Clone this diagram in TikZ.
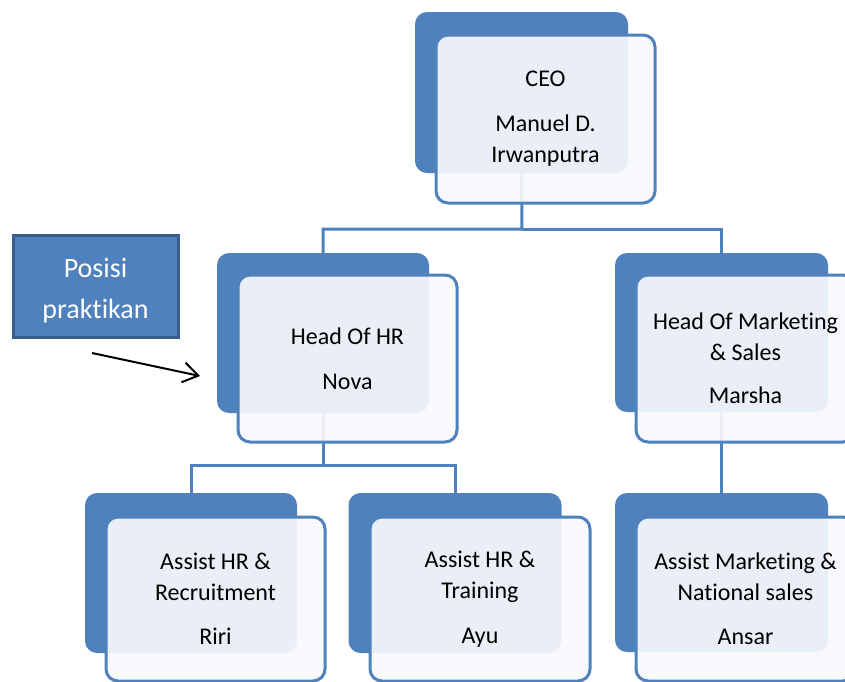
\documentclass[tikz,border=0pt]{standalone}
\usepackage{fontspec}
\setmainfont{Carlito}[RawFeature=-liga, RawFeature=-clig, RawFeature=-calt]
\usetikzlibrary{arrows.meta}
\definecolor{accent}{HTML}{4F81BD}
\definecolor{accentdark}{HTML}{385D8A}
\definecolor{frontfill}{HTML}{F8F9FD}
\begin{document}
\begin{tikzpicture}[x=1pt,y=-1pt,
  backbox/.style={fill=accent, rounded corners=12pt, inner sep=0pt},
  frontbox/.style={fill=frontfill, fill opacity=0.92, text opacity=1, draw=accent,
    line width=3pt, rounded corners=12pt, inner sep=0pt, align=center,
    font=\fontsize{24}{31}\selectfont, text=black},
  conn/.style={draw=accent, line width=3pt},
  notebox/.style={fill=accent, draw=accentdark, line width=3pt, inner sep=0pt},
  notetext/.style={align=center, text=white, font=\fontsize{28}{41}\selectfont},
  pointer/.style={draw=black, line width=2pt, -{Straight Barb[length=15pt,width=20pt]}}]
\useasboundingbox (0,0) rectangle (845,681);
\clip (0,0) rectangle (845,681);

% back (dark) boxes
\node[backbox, minimum width=213, minimum height=161] (ceoB) at (521.5,92.5) {};
\node[backbox, minimum width=212, minimum height=160] (hrB) at (323,333) {};
\node[backbox, minimum width=213, minimum height=159] (mkB) at (721.5,332.5) {};
\node[backbox, minimum width=212, minimum height=160] (recB) at (191,573) {};
\node[backbox, minimum width=213, minimum height=160] (trB) at (455,573) {};
\node[backbox, minimum width=213, minimum height=159] (amB) at (721.5,572.5) {};

% connectors (seen through the translucent front boxes)
\coordinate (j1) at (522,229);
\coordinate (j2) at (323,465);
\draw[conn] (ceoB.south) -- (j1) -| (hrB.north);
\draw[conn] (j1) -| (mkB.north);
\draw[conn] (hrB.south) -- (j2) -| (recB.north);
\draw[conn] (j2) -| (trB.north);
\draw[conn] (mkB.south) -- (amB.north);

% front boxes
\node[frontbox, minimum width=219, minimum height=168] (ceo) at (545.5,119)
  {CEO\\[14pt]Manuel D.\\Irwanputra};
\node[frontbox, minimum width=219, minimum height=167] (hr) at (347.5,358.5)
  {Head Of HR\\[14pt]Nova};
\node[frontbox, minimum width=219, minimum height=167] (mk) at (745.5,358.5)
  {Head Of Marketing\\\& Sales\\[12pt]Marsha};
\node[frontbox, minimum width=219, minimum height=164] (rec) at (215.5,599)
  {Assist HR \&\\Recruitment\\[13pt]Riri};
\node[frontbox, minimum width=220, minimum height=164] (tr) at (480,599)
  {Assist HR \&\\Training\\[14pt]Ayu};
\node[frontbox, minimum width=219, minimum height=164] (am) at (745.5,599)
  {Assist Marketing \&\\National sales\\[13pt]Ansar};

% note box and pointer
\node[notebox, minimum width=165, minimum height=102] (note) at (95.5,286) {};
\node[notetext] (noteT) at (95.5,291) {Posisi\\praktikan};
\coordinate (ps) at (92,353);
\coordinate (pe) at (200,376);
\draw[pointer] (ps) -- (pe);
\end{tikzpicture}
\end{document}
